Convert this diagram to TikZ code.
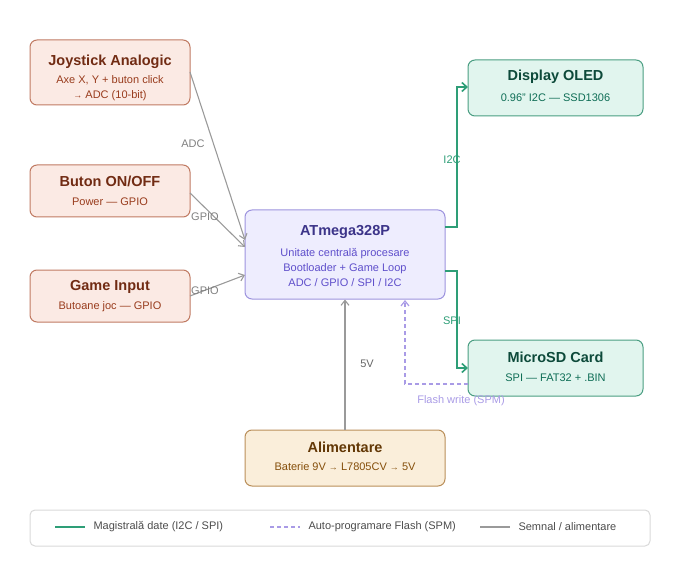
\documentclass[tikz,border=0pt]{standalone}
\usepackage{fontspec}
\setmainfont{Liberation Sans}
\usetikzlibrary{arrows.meta, positioning}

\definecolor{inFill}{HTML}{FBEAE4}\definecolor{inDraw}{HTML}{C07A62}
\definecolor{inTitle}{HTML}{712B13}\definecolor{inSub}{HTML}{993C1D}
\definecolor{cpuFill}{HTML}{EEEDFE}\definecolor{cpuDraw}{HTML}{9D93DE}
\definecolor{cpuTitle}{HTML}{3C3489}\definecolor{cpuSub}{HTML}{5F4FCB}
\definecolor{outFill}{HTML}{E1F5EE}\definecolor{outDraw}{HTML}{4A9E82}
\definecolor{outTitle}{HTML}{0D4A3A}\definecolor{outSub}{HTML}{0F6E56}
\definecolor{pwFill}{HTML}{FAEEDA}\definecolor{pwDraw}{HTML}{BA8F5A}
\definecolor{pwTitle}{HTML}{633806}\definecolor{pwSub}{HTML}{854F0B}
\definecolor{busCol}{HTML}{2E9E77}\definecolor{spmCol}{HTML}{A99BE6}
\definecolor{sigCol}{HTML}{9A9A9A}
\newcommand{\sarr}{{\fontsize{9}{9}\selectfont→}}

\begin{document}
\begin{tikzpicture}[x=1pt, y=-1pt,
    box/.style={draw, rounded corners=7pt, line width=1pt, align=center, inner sep=0pt},
    ttl/.style={font=\bfseries\fontsize{14.5}{16}\selectfont},
    sub/.style={font=\fontsize{11}{15}\selectfont},
    bus/.style={busCol, line width=1.6pt, -{Straight Barb[length=5pt,width=9pt]}},
    spm/.style={spmCol, line width=1.2pt, dash pattern=on 4pt off 3pt, -{Straight Barb[length=5pt,width=8pt]}},
    sig/.style={sigCol, line width=1.1pt, -{Straight Barb[length=5pt,width=8pt]}},
    lbl/.style={font=\fontsize{11}{13}\selectfont}]
    \useasboundingbox (0,0) rectangle (680,580);

    % Intrari
    \node[box, fill=inFill, draw=inDraw, minimum width=160pt, minimum height=65pt] (joy) at (110,72.5) {};
    \node[ttl, text=inTitle] at (110,62) {Joystick Analogic};
    \node[sub, text=inSub, align=center] at (110,88.5) {Axe X, Y + buton click\\\sarr{} ADC (10-bit)};
    \node[box, fill=inFill, draw=inDraw, minimum width=160pt, minimum height=52pt] (btn) at (110,191) {};
    \node[ttl, text=inTitle] at (110,181) {Buton ON/OFF};
    \node[sub, text=inSub] at (110,202) {Power — GPIO};
    \node[box, fill=inFill, draw=inDraw, minimum width=160pt, minimum height=52pt] (game) at (110,296) {};
    \node[ttl, text=inTitle] at (110,287) {Game Input};
    \node[sub, text=inSub] at (110,307) {Butoane joc — GPIO};

    % Procesor
    \node[box, fill=cpuFill, draw=cpuDraw, minimum width=200pt, minimum height=89pt] (cpu) at (345,254.5) {};
    \node[ttl, text=cpuTitle] at (345,232) {ATmega328P};
    \node[sub, text=cpuSub, align=center] at (345,267) {Unitate centrală procesare\\Bootloader + Game Loop\\ADC / GPIO / SPI / I2C};

    % Iesiri
    \node[box, fill=outFill, draw=outDraw, minimum width=175pt, minimum height=56pt] (oled) at (555.5,88) {};
    \node[ttl, text=outTitle] at (555.5,77) {Display OLED};
    \node[sub, text=outSub] at (555.5,98) {0.96" I2C — SSD1306};
    \node[box, fill=outFill, draw=outDraw, minimum width=175pt, minimum height=56pt] (sd) at (555.5,368) {};
    \node[ttl, text=outTitle] at (555.5,357) {MicroSD Card};
    \node[sub, text=outSub] at (555.5,378) {SPI — FAT32 + .BIN};

    % Alimentare
    \node[box, fill=pwFill, draw=pwDraw, minimum width=200pt, minimum height=56pt] (pw) at (345,458) {};
    \node[ttl, text=pwTitle] at (345,447) {Alimentare};
    \node[sub, text=pwSub] at (345,467) {Baterie 9V \sarr{} L7805CV \sarr{} 5V};

    % Conexiuni
    \draw[sig] (190,72) -- (245,240);
    \node[lbl, text=gray] at (193,144) {ADC};
    \draw[sig] (190,193) -- (245,247);
    \node[lbl, text=gray] at (205,217) {GPIO};
    \draw[sig] (190,296) -- (245,275);
    \node[lbl, text=gray] at (205,291) {GPIO};
    \draw[bus] (445,227) -- (457,227) -- (457,87) -- (468,87);
    \node[lbl, text=busCol] at (452,160) {I2C};
    \draw[bus] (445,271) -- (457,271) -- (457,368) -- (468,368);
    \node[lbl, text=busCol] at (452,321) {SPI};
    \draw[sig] (pw.north) -- (cpu.south);
    \node[lbl, text=gray!80!black] at (367,364) {5V};
    \draw[spm] (468,384) -- (405,384) -- (405,300);
    \node[lbl, text=spmCol] at (461,401) {Flash write (SPM)};

    % Legenda
    \node[draw=black!15, line width=1pt, rounded corners=5pt, minimum width=620pt, minimum height=36pt] (leg) at (340,528) {};
    \draw[busCol, line width=1.6pt] (55,527) -- (85,527);
    \node[lbl, text=black!70, anchor=west] at (90,527) {Magistrală date (I2C / SPI)};
    \draw[spmCol, line width=1.2pt, dash pattern=on 4pt off 3pt] (270,527) -- (300,527);
    \node[lbl, text=black!70, anchor=west] at (305,527) {Auto-programare Flash (SPM)};
    \draw[sigCol, line width=1.1pt] (480,527) -- (510,527);
    \node[lbl, text=black!70, anchor=west] at (515,527) {Semnal / alimentare};
\end{tikzpicture}
\end{document}
